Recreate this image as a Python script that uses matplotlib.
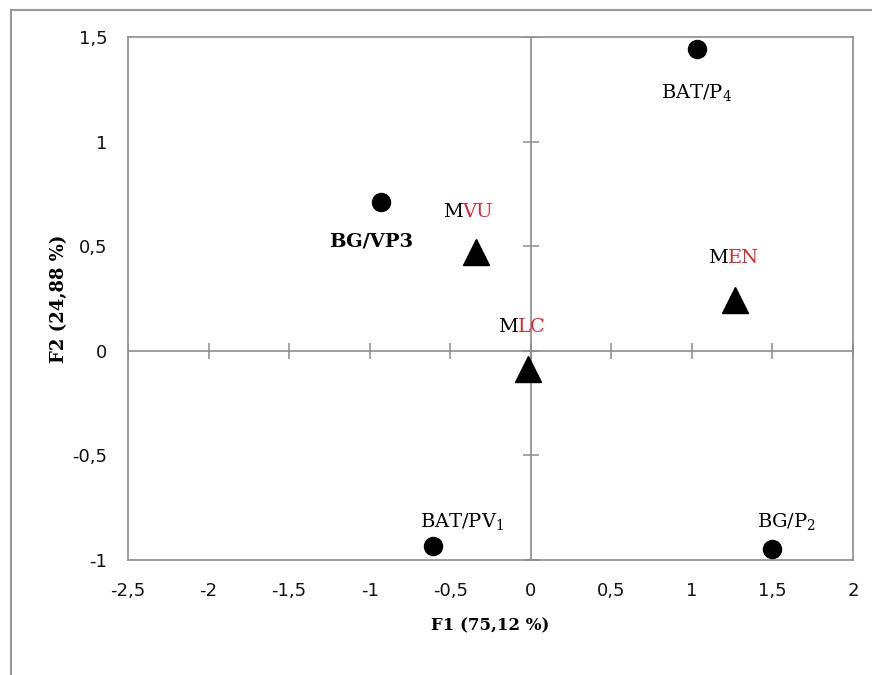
import matplotlib.pyplot as plt
from matplotlib.lines import Line2D

# PCA scores (F1, F2)
site_names = ["BAT/P$_{4}$", "BG/VP3", "BAT/PV$_{1}$", "BG/P$_{2}$"]
site_f1 = [1.03, -0.93, -0.61, 1.50]
site_f2 = [1.445, 0.713, -0.933, -0.947]

status_names = ["VU", "EN", "LC"]
status_f1 = [-0.342, 1.267, -0.019]
status_f2 = [0.474, 0.244, -0.086]

x_ticks = [-2.5, -2, -1.5, -1, -0.5, 0, 0.5, 1, 1.5, 2]
y_ticks = [-1, -0.5, 0, 0.5, 1, 1.5]

plt.rcParams["mathtext.fontset"] = "dejavuserif"

W, H = 872, 675
fig = plt.figure(figsize=(W / 100, H / 100), dpi=100)
ax = fig.add_axes([128 / W, (H - 560) / H, (853 - 128) / W, (560 - 37) / H])

grey = "#8c8c8c"

# zero lines with their own small ticks
ax.axhline(0, color=grey, lw=1.2, zorder=1)
ax.axvline(0, color=grey, lw=1.2, zorder=1)
ax.plot(x_ticks, [0] * len(x_ticks), ls="none", marker="|", ms=12, mew=1.1, color=grey, zorder=1)
ax.plot([0] * len(y_ticks), y_ticks, ls="none", marker="_", ms=11, mew=1.1, color=grey, zorder=1)

ax.plot(site_f1, site_f2, ls="none", marker="o", ms=13, color="black", zorder=3)
ax.plot(status_f1, status_f2, ls="none", marker="^", ms=19, color="black", zorder=3)

# label offsets in pixels (dx, dy)
site_offsets = [(0, -44), (-10, -40), (30, 24), (14, 27)]
for name, x, y, off in zip(site_names, site_f1, site_f2, site_offsets):
    ax.annotate(name, xy=(x, y), xytext=off, textcoords="offset pixels",
                ha="center", va="center", fontsize=14, family="DejaVu Serif",
                fontweight="bold" if name == "BG/VP3" else "normal")

status_offsets = [(-13, 40), (-7, 42), (-10, 42)]
for name, x, y, off in zip(status_names, status_f1, status_f2, status_offsets):
    ax.annotate("M", xy=(x, y), xytext=off, textcoords="offset pixels",
                ha="right", va="center", fontsize=14, family="DejaVu Serif", color="black")
    ax.annotate(name, xy=(x, y), xytext=off, textcoords="offset pixels",
                ha="left", va="center", fontsize=14, family="DejaVu Serif", color="#e8202a")

ax.set_xlim(-2.5, 2)
ax.set_ylim(-1, 1.5)
ax.set_xticks(x_ticks)
ax.set_yticks(y_ticks)
ax.set_xticklabels([f"{t:g}".replace(".", ",") for t in x_ticks])
ax.set_yticklabels([f"{t:g}".replace(".", ",") for t in y_ticks])
ax.tick_params(length=0, labelsize=13, colors="#111111")
ax.tick_params(axis="x", pad=16)
ax.tick_params(axis="y", pad=15)
for s in ax.spines.values():
    s.set_color(grey)
    s.set_linewidth(1.2)

ax.set_xlabel("F1 (75,12 %)", family="DejaVu Serif", fontweight="bold", fontsize=12, labelpad=12)
ax.set_ylabel("F2 (24,88 %)", family="DejaVu Serif", fontweight="bold", fontsize=13, labelpad=3)

# outer frame (left and top only, the rest is cropped)
fig.add_artist(Line2D([11 / W, 11 / W], [0, 1 - 10 / H], color="#999999", lw=1.5))
fig.add_artist(Line2D([11 / W, 1], [1 - 10 / H, 1 - 10 / H], color="#999999", lw=1.5))

fig.savefig("out.png", dpi=100)
